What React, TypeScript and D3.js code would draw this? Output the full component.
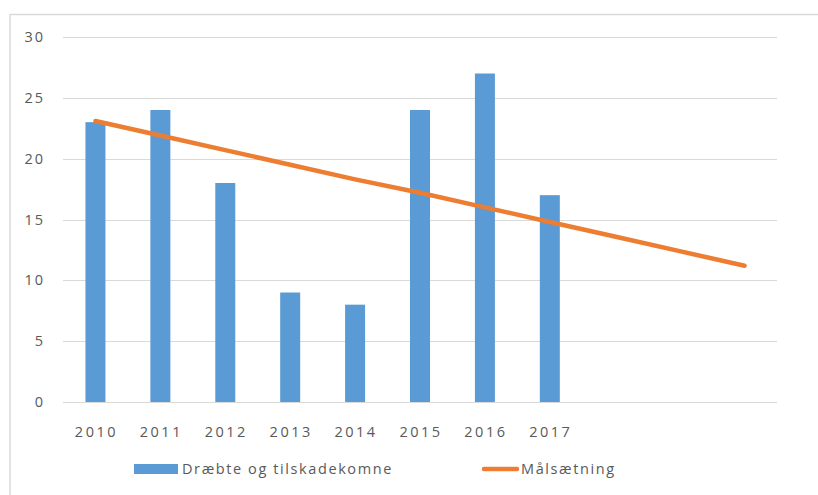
import React, { useEffect, useRef } from "react";
import * as d3 from "d3";

const years = ["2010", "2011", "2012", "2013", "2014", "2015", "2016", "2017", "2018", "2019", "2020"];
const labeledYears = ["2010", "2011", "2012", "2013", "2014", "2015", "2016", "2017"];
const injured = [23, 24, 18, 9, 8, 24, 27, 17];
const target = [23.1, 21.9, 20.7, 19.5, 18.3, 17.2, 16.0, 14.8, 13.6, 12.4, 11.2];
const yTicks = [0, 5, 10, 15, 20, 25, 30];

const App = () => {
  const svgRef = useRef<SVGSVGElement>(null);

  useEffect(() => {
    const width = 818;
    const height = 495;
    const marginLeft = 63;
    const marginRight = 41;
    const marginTop = 37;
    const plotBottom = 402;
    const font = "Open Sans, Liberation Sans, sans-serif";
    const textColor = "#595959";

    const svg = d3.select(svgRef.current).attr("width", width).attr("height", height);
    svg.selectAll("*").remove();

    // chart frame (only top and left edges visible)
    svg.append("line").attr("x1", 10).attr("x2", width).attr("y1", 14.5).attr("y2", 14.5)
      .attr("stroke", "#d9d9d9").attr("stroke-width", 1.5);
    svg.append("line").attr("x1", 10).attr("x2", 10).attr("y1", 14).attr("y2", height)
      .attr("stroke", "#d9d9d9").attr("stroke-width", 1.5);

    const x = d3.scaleBand().domain(years).range([marginLeft, width - marginRight]);
    const y = d3.scaleLinear().domain([0, 30]).range([plotBottom, marginTop]);

    // grid lines
    svg.append("g")
      .selectAll("line")
      .data(yTicks)
      .join("line")
      .attr("x1", marginLeft)
      .attr("x2", width - marginRight)
      .attr("y1", (d) => Math.round(y(d)) + 0.5)
      .attr("y2", (d) => Math.round(y(d)) + 0.5)
      .attr("stroke", "#d9d9d9")
      .attr("stroke-width", 1);

    // y tick labels
    svg.append("g")
      .selectAll("text")
      .data(yTicks)
      .join("text")
      .attr("x", 45)
      .attr("y", (d) => y(d))
      .attr("dy", "0.35em")
      .attr("text-anchor", "end")
      .attr("fill", textColor)
      .style("font", `14.5px ${font}`)
      .style("letter-spacing", "2px")
      .text((d) => d);

    // x tick labels
    svg.append("g")
      .selectAll("text")
      .data(labeledYears)
      .join("text")
      .attr("x", (d) => x(d)! + x.bandwidth() / 2 + 1)
      .attr("y", 432)
      .attr("dy", "0.35em")
      .attr("text-anchor", "middle")
      .attr("fill", textColor)
      .style("font", `14.5px ${font}`)
      .style("letter-spacing", "2.5px")
      .text((d) => d);

    // bars
    const barWidth = 20;
    svg.append("g")
      .selectAll("rect")
      .data(injured)
      .join("rect")
      .attr("x", (_, i) => x(years[i])! + x.bandwidth() / 2 - barWidth / 2)
      .attr("y", (d) => y(d))
      .attr("width", barWidth)
      .attr("height", (d) => y(0) - y(d))
      .attr("fill", "#5b9bd5");

    // target line
    const line = d3
      .line<number>()
      .x((_, i) => x(years[i])! + x.bandwidth() / 2)
      .y((d) => y(d));

    svg.append("path")
      .datum(target)
      .attr("fill", "none")
      .attr("stroke", "#ed7d31")
      .attr("stroke-width", 4.5)
      .attr("stroke-linecap", "round")
      .attr("d", line);

    // legend
    const legendY = 469;
    svg.append("rect").attr("x", 134).attr("y", legendY - 5).attr("width", 44).attr("height", 10)
      .attr("fill", "#5b9bd5");
    svg.append("text").attr("x", 182).attr("y", legendY).attr("dy", "0.35em")
      .attr("fill", textColor).style("font", `14.5px ${font}`).style("letter-spacing", "1.6px")
      .text("Dræbte og tilskadekomne");
    svg.append("line").attr("x1", 484).attr("x2", 517).attr("y1", legendY).attr("y2", legendY)
      .attr("stroke", "#ed7d31").attr("stroke-width", 4.5).attr("stroke-linecap", "round");
    svg.append("text").attr("x", 521).attr("y", legendY).attr("dy", "0.35em")
      .attr("fill", textColor).style("font", `14.5px ${font}`).style("letter-spacing", "1.6px")
      .text("Målsætning");
  }, []);

  return (
    <div>
      <svg ref={svgRef} style={{ position: "absolute", left: 0, top: 0, background: "#fff" }}></svg>
    </div>
  );
};
export default App;
